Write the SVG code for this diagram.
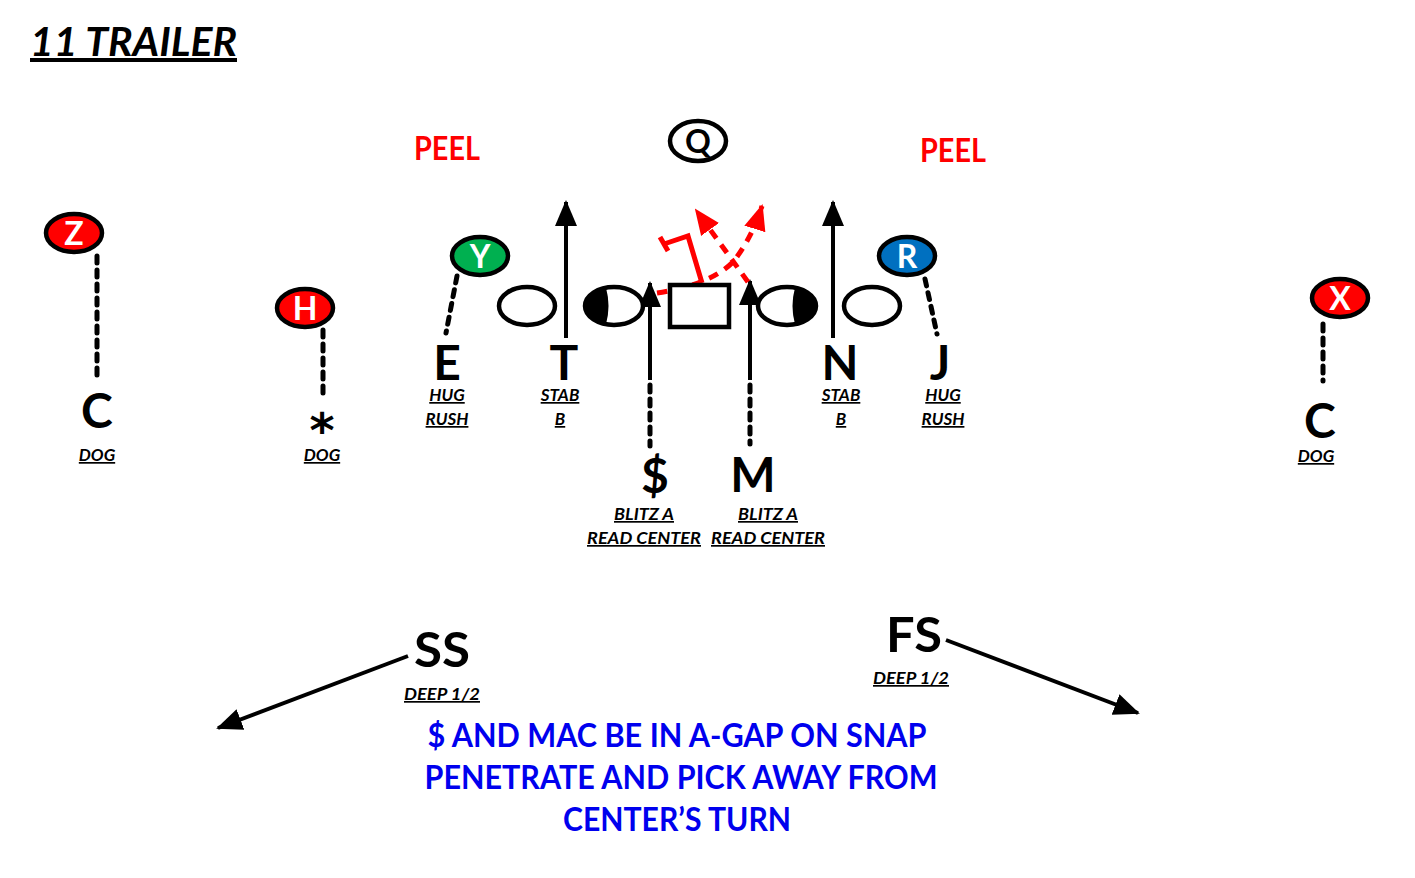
<svg xmlns="http://www.w3.org/2000/svg" width="1415" height="878" viewBox="0 0 1415 878">
<style>
text{font-family:Lato,"Open Sans","Liberation Sans",sans-serif;font-weight:700}
.big{font-size:48px;fill:#000;text-anchor:middle}
.lbl{font-size:17px;font-style:italic;text-decoration:underline;text-anchor:middle;fill:#000}
.peel{font-size:32px;fill:#ff0000;text-anchor:middle}
.blue{font-size:33px;fill:#0000ee;text-anchor:middle}
.ltr{font-size:32px;fill:#fff;text-anchor:middle}
.ol{fill:#fff;stroke:#000;stroke-width:4.5}
.dash{stroke:#000;stroke-width:5;fill:none;stroke-dasharray:7 7;stroke-linecap:round}
.solid{stroke:#000;stroke-width:4;fill:none}
.rdash{stroke:#ff0000;stroke-width:5;fill:none;stroke-dasharray:10 8}
</style>
<defs>
<marker id="ab" markerUnits="userSpaceOnUse" markerWidth="26" markerHeight="26" viewBox="0 0 26 26" refX="24" refY="13" orient="auto"><path d="M0,2 L26,13 L0,24 Z" fill="#000"/></marker>
<marker id="ar" markerUnits="userSpaceOnUse" markerWidth="26" markerHeight="26" viewBox="0 0 26 26" refX="24" refY="13" orient="auto"><path d="M0,2 L26,13 L0,24 Z" fill="#ff0000"/></marker>
</defs>

<g id="title"><text x="30" y="56" font-size="40" font-style="italic" text-decoration="underline" textLength="207" lengthAdjust="spacingAndGlyphs">11 TRAILER</text></g>

<g id="peel-left"><text class="peel" x="447" y="160" textLength="66" lengthAdjust="spacingAndGlyphs">PEEL</text></g>
<g id="peel-right"><text class="peel" x="953" y="162" textLength="66" lengthAdjust="spacingAndGlyphs">PEEL</text></g>

<g id="connectors">
<line class="solid" x1="566" y1="338" x2="566" y2="202" marker-end="url(#ab)"/>
<line class="solid" x1="833" y1="338" x2="833" y2="202" marker-end="url(#ab)"/>
<line class="solid" x1="650" y1="380" x2="650" y2="283" marker-end="url(#ab)"/>
<line class="dash" x1="650" y1="385" x2="650" y2="446"/>
<line class="solid" x1="750" y1="380" x2="750" y2="281" marker-end="url(#ab)"/>
<line class="dash" x1="750" y1="385" x2="750" y2="444"/>
<line class="dash" x1="457" y1="276" x2="446" y2="333"/>
<line class="dash" x1="925" y1="279" x2="937" y2="334"/>
<line class="dash" x1="97" y1="256" x2="97" y2="379"/>
<line class="dash" x1="323" y1="330" x2="323" y2="399"/>
<line class="dash" x1="1323" y1="324" x2="1323" y2="381"/>
<line class="solid" x1="408" y1="656" x2="218" y2="728" marker-end="url(#ab)" stroke-width="4.5"/>
<line class="solid" x1="946" y1="640" x2="1138" y2="713" marker-end="url(#ab)" stroke-width="4.5"/>
<path class="rdash" d="M657,293 Q710,285 733,262 Q752,238 762,206" marker-end="url(#ar)"/>
<path class="rdash" d="M748,282 L696,210" marker-end="url(#ar)"/>
<path d="M702,283 L688,236 L664,244" stroke="#ff0000" stroke-width="5" fill="none"/>
<path d="M660,237 L668,251" stroke="#ff0000" stroke-width="5" fill="none"/>
</g>

<g id="q"><ellipse cx="698" cy="141" rx="28" ry="20" class="ol"/><text x="698" y="153" font-size="32" text-anchor="middle">Q</text></g>

<g id="lt"><ellipse cx="527" cy="306" rx="28" ry="19" class="ol"/></g>
<g id="lg"><ellipse cx="614" cy="306" rx="29" ry="19" class="ol"/><path d="M606,287.7 A29,19 0 0 0 606,324.3 Q611,306 606,287.7 Z" fill="#000"/></g>
<g id="center"><rect x="670" y="285" width="59" height="42" class="ol"/></g>
<g id="rg"><ellipse cx="787" cy="306" rx="29" ry="19" class="ol"/><path d="M795,287.7 A29,19 0 0 1 795,324.3 Q790,306 795,287.7 Z" fill="#000"/></g>
<g id="rt"><ellipse cx="872" cy="306" rx="28" ry="19" class="ol"/></g>

<g id="y"><ellipse cx="480" cy="256" rx="28" ry="19" fill="#00b050" stroke="#000" stroke-width="4.5"/><text class="ltr" x="480" y="268">Y</text></g>
<g id="r"><ellipse cx="907" cy="256" rx="28" ry="19" fill="#0070c0" stroke="#000" stroke-width="4.5"/><text class="ltr" x="907" y="268">R</text></g>
<g id="z"><ellipse cx="74" cy="233" rx="28" ry="19" fill="#ff0000" stroke="#000" stroke-width="4.5"/><text class="ltr" x="74" y="245">Z</text></g>
<g id="h"><ellipse cx="305" cy="308" rx="28" ry="19" fill="#ff0000" stroke="#000" stroke-width="4.5"/><text class="ltr" x="305" y="320">H</text></g>
<g id="x"><ellipse cx="1340" cy="298" rx="28" ry="19" fill="#ff0000" stroke="#000" stroke-width="4.5"/><text class="ltr" x="1340" y="310">X</text></g>

<g id="e"><text class="big" x="447" y="380">E</text><text class="lbl" x="447" y="401">HUG</text><text class="lbl" x="447" y="425">RUSH</text></g>
<g id="t"><text class="big" x="564" y="380">T</text><text class="lbl" x="560" y="401">STAB</text><text class="lbl" x="560" y="425">B</text></g>
<g id="n"><text class="big" x="840" y="380">N</text><text class="lbl" x="841" y="401">STAB</text><text class="lbl" x="841" y="425">B</text></g>
<g id="j"><text class="big" x="940" y="380">J</text><text class="lbl" x="943" y="401">HUG</text><text class="lbl" x="943" y="425">RUSH</text></g>

<g id="c-left"><text class="big" x="97" y="428" font-size="54">C</text><text class="lbl" x="97" y="461">DOG</text></g>
<g id="star"><text class="big" x="322" y="447" font-size="58" style="font-family:'DejaVu Sans',sans-serif">*</text><text class="lbl" x="322" y="461">DOG</text></g>
<g id="c-right"><text class="big" x="1320" y="438" font-size="54">C</text><text class="lbl" x="1316" y="462">DOG</text></g>

<g id="dollar"><text class="big" x="655" y="493" font-size="50">$</text><text class="lbl" x="644" y="520" textLength="60" lengthAdjust="spacingAndGlyphs">BLITZ A</text><text class="lbl" x="644" y="544" textLength="114" lengthAdjust="spacingAndGlyphs">READ CENTER</text></g>
<g id="m"><text class="big" x="753" y="492" font-size="50">M</text><text class="lbl" x="768" y="520" textLength="60" lengthAdjust="spacingAndGlyphs">BLITZ A</text><text class="lbl" x="768" y="544" textLength="114" lengthAdjust="spacingAndGlyphs">READ CENTER</text></g>

<g id="ss"><text class="big" x="442" y="667" font-size="50" textLength="56" lengthAdjust="spacingAndGlyphs">SS</text><text class="lbl" x="442" y="700" textLength="76" lengthAdjust="spacingAndGlyphs">DEEP 1/2</text></g>
<g id="fs"><text class="big" x="914" y="652" font-size="50" textLength="56" lengthAdjust="spacingAndGlyphs">FS</text><text class="lbl" x="911" y="684" textLength="76" lengthAdjust="spacingAndGlyphs">DEEP 1/2</text></g>

<g id="note">
<text class="blue" x="677" y="747" textLength="499" lengthAdjust="spacingAndGlyphs">$ AND MAC BE IN A-GAP ON SNAP</text>
<text class="blue" x="681" y="789" textLength="513" lengthAdjust="spacingAndGlyphs">PENETRATE AND PICK AWAY FROM</text>
<text class="blue" x="677" y="831" textLength="228" lengthAdjust="spacingAndGlyphs">CENTER’S TURN</text>
</g>
</svg>
